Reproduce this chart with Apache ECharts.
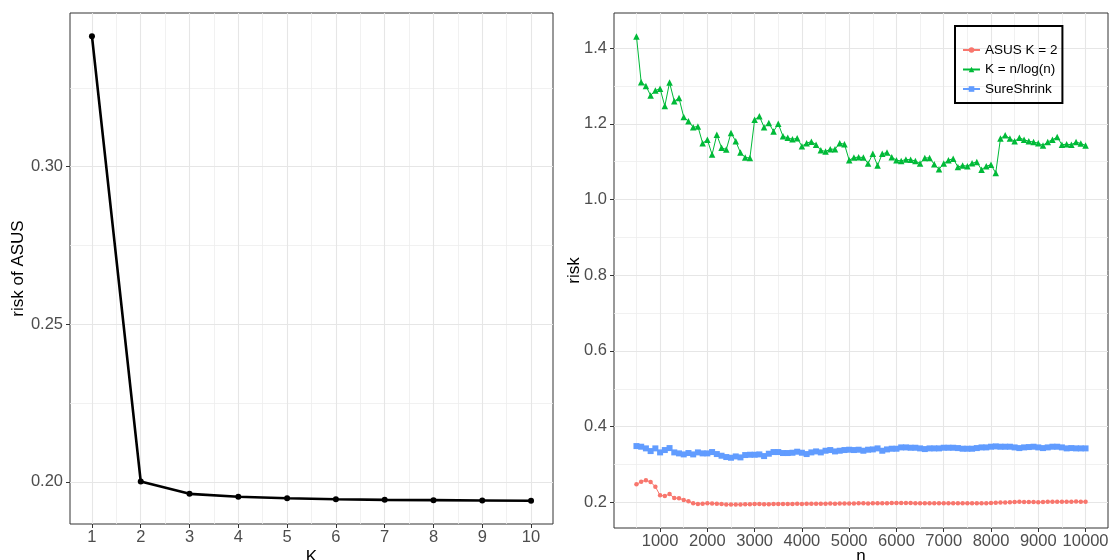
<!DOCTYPE html>
<html><head><meta charset="utf-8">
<script src="https://cdn.jsdelivr.net/npm/echarts@6/dist/echarts.min.js"></script>
<style>html,body{margin:0;padding:0;background:#fff}#c{width:1111px;height:560px}</style>
</head><body><div id="c"></div>
<script>
// ---- Left panel data ----
const kValues = [1, 2, 3, 4, 5, 6, 7, 8, 9, 10];
const asusRiskByK = [0.3414, 0.2001, 0.1962, 0.1953, 0.1948, 0.1945, 0.1943, 0.1942, 0.1941, 0.1940];
const kTicks = [1, 2, 3, 4, 5, 6, 7, 8, 9, 10];
const kMinorTicks = [1.5, 2.5, 3.5, 4.5, 5.5, 6.5, 7.5, 8.5, 9.5];
const riskKTicks = [0.20, 0.25, 0.30];
const riskKMinorTicks = [0.225, 0.275, 0.325];

// ---- Right panel data ----
const nValues = [500,600,700,800,900,1000,1100,1200,1300,1400,1500,1600,1700,1800,1900,2000,2100,2200,2300,2400,2500,2600,2700,2800,2900,3000,3100,3200,3300,3400,3500,3600,3700,3800,3900,4000,4100,4200,4300,4400,4500,4600,4700,4800,4900,5000,5100,5200,5300,5400,5500,5600,5700,5800,5900,6000,6100,6200,6300,6400,6500,6600,6700,6800,6900,7000,7100,7200,7300,7400,7500,7600,7700,7800,7900,8000,8100,8200,8300,8400,8500,8600,8700,8800,8900,9000,9100,9200,9300,9400,9500,9600,9700,9800,9900,10000];
const asusK2 = [0.2475,0.2544,0.2581,0.2536,0.2412,0.2185,0.2166,0.2219,0.2114,0.2106,0.2061,0.2026,0.1974,0.1956,0.1965,0.1974,0.1970,0.1965,0.1956,0.1945,0.1940,0.1942,0.1945,0.1947,0.1947,0.1956,0.1956,0.1952,0.1952,0.1954,0.1958,0.1954,0.1954,0.1958,0.1960,0.1956,0.1960,0.1960,0.1962,0.1965,0.1965,0.1967,0.1965,0.1968,0.1970,0.1972,0.1970,0.1974,0.1974,0.1972,0.1975,0.1977,0.1975,0.1978,0.1980,0.1982,0.1984,0.1982,0.1980,0.1978,0.1976,0.1978,0.1976,0.1975,0.1977,0.1976,0.1978,0.1976,0.1974,0.1976,0.1975,0.1977,0.1976,0.1974,0.1978,0.1982,0.1990,0.1994,0.1998,0.2004,0.2010,0.2014,0.2008,0.2010,0.2006,0.2004,0.2010,0.2016,0.2014,0.2012,0.2016,0.2018,0.2016,0.2020,0.2018,0.2016];
const kNlogN = [1.431,1.310,1.300,1.275,1.288,1.293,1.247,1.309,1.260,1.268,1.218,1.207,1.191,1.193,1.149,1.158,1.119,1.171,1.137,1.132,1.176,1.154,1.124,1.111,1.110,1.211,1.220,1.191,1.202,1.180,1.200,1.167,1.163,1.159,1.162,1.141,1.149,1.153,1.145,1.130,1.127,1.133,1.133,1.149,1.146,1.104,1.111,1.112,1.111,1.095,1.121,1.090,1.121,1.124,1.112,1.104,1.102,1.106,1.105,1.102,1.095,1.110,1.110,1.093,1.080,1.095,1.104,1.108,1.086,1.090,1.088,1.096,1.099,1.079,1.088,1.092,1.070,1.161,1.170,1.161,1.154,1.163,1.158,1.154,1.152,1.149,1.143,1.152,1.158,1.165,1.145,1.146,1.145,1.152,1.148,1.143];
const sureShrink = [0.3486,0.3469,0.3425,0.3354,0.3425,0.3319,0.3381,0.3433,0.3319,0.3293,0.3266,0.3302,0.3266,0.3319,0.3293,0.3293,0.3328,0.3275,0.3231,0.3196,0.3178,0.3213,0.3187,0.3249,0.3257,0.3257,0.3266,0.3222,0.3284,0.3328,0.3328,0.3302,0.3302,0.3310,0.3337,0.3310,0.3275,0.3319,0.3345,0.3319,0.3363,0.3381,0.3345,0.3363,0.3381,0.3390,0.3381,0.3390,0.3363,0.3390,0.3398,0.3425,0.3363,0.3398,0.3416,0.3416,0.3451,0.3451,0.3442,0.3442,0.3425,0.3407,0.3425,0.3425,0.3425,0.3442,0.3442,0.3442,0.3433,0.3416,0.3416,0.3416,0.3433,0.3451,0.3451,0.3469,0.3478,0.3469,0.3469,0.3469,0.3451,0.3433,0.3451,0.3460,0.3469,0.3451,0.3433,0.3451,0.3469,0.3469,0.3451,0.3425,0.3433,0.3425,0.3425,0.3425];
const nTicks = [1000,2000,3000,4000,5000,6000,7000,8000,9000,10000];
const nMinorTicks = [500,1500,2500,3500,4500,5500,6500,7500,8500,9500];
const riskTicks = [0.2, 0.4, 0.6, 0.8, 1.0, 1.2, 1.4];
const riskMinorTicks = [0.3, 0.5, 0.7, 0.9, 1.1, 1.3];
const seriesNames = ['ASUS K = 2', 'K = n/log(n)', 'SureShrink'];

// ggplot-style 5% expansion of the data range
function expand(vals) {
  const mn = Math.min(...vals), mx = Math.max(...vals), r = mx - mn;
  return [mn - 0.05 * r, mx + 0.05 * r];
}
const kRange = expand(kValues);
const riskKRange = expand(asusRiskByK);
const nRange = expand(nValues);
const riskRange = expand(asusK2.concat(kNlogN, sureShrink));

const FONT = 'Liberation Sans, Arial, Helvetica, sans-serif';
const majorLine = {show: true, lineStyle: {color: '#e6e6e6', width: 1.1}};
const minorLine = {show: true, lineStyle: {color: '#eeeeee', width: 0.8}};

function mainAxis(gridIndex, range, ticks, fmt, name, nameGap, isY) {
  return {
    gridIndex, type: 'value', min: range[0], max: range[1],
    axisLine: {show: false},
    axisTick: {show: true, length: 4, lineStyle: {color: '#333', width: 1}, customValues: ticks},
    axisLabel: {customValues: ticks, formatter: fmt, color: '#4d4d4d', fontSize: 16.5, fontFamily: FONT, margin: isY ? 7 : 5},
    splitLine: majorLine,
    name, nameLocation: 'middle', nameGap, nameMoveOverlap: false,
    nameTextStyle: {color: '#000', fontSize: 17, fontFamily: FONT},
    z: 1
  };
}
function minorAxis(gridIndex, range, ticks) {
  return {
    gridIndex, type: 'value', min: range[0], max: range[1],
    axisLine: {show: false},
    axisTick: {show: false, customValues: ticks},
    axisLabel: {show: false, customValues: ticks},
    splitLine: minorLine,
    z: 0
  };
}

const chart = echarts.init(document.getElementById('c'), null, {renderer: 'canvas'});
chart.setOption({
  animation: false,
  backgroundColor: '#fff',
  grid: [
    {left: 70, right: 558, top: 13, bottom: 36, show: true, borderColor: '#333', borderWidth: 1, containLabel: false, outerBoundsMode: 'none'},
    {left: 614, right: 3, top: 13, bottom: 32, show: true, borderColor: '#333', borderWidth: 1, containLabel: false, outerBoundsMode: 'none'}
  ],
  xAxis: [
    mainAxis(0, kRange, kTicks, v => String(v), 'K', 25, false),
    minorAxis(0, kRange, kMinorTicks),
    mainAxis(1, nRange, nTicks, v => String(v), 'n', 20, false),
    minorAxis(1, nRange, nMinorTicks)
  ],
  yAxis: [
    mainAxis(0, riskKRange, riskKTicks, v => v.toFixed(2), 'risk of ASUS', 43, true),
    minorAxis(0, riskKRange, riskKMinorTicks),
    mainAxis(1, riskRange, riskTicks, v => v.toFixed(1), 'risk', 31, true),
    minorAxis(1, riskRange, riskMinorTicks)
  ],
  legend: {
    data: seriesNames,
    orient: 'vertical', left: 955, top: 26,
    padding: [17, 5, 7, 7],
    borderColor: '#000', borderWidth: 2,
    itemGap: 5.5, itemWidth: 17, itemHeight: 7,
    textStyle: {fontSize: 13.5, fontFamily: FONT, color: '#000'}
  },
  series: [
    {
      type: 'line', xAxisIndex: 0, yAxisIndex: 0,
      data: kValues.map((k, i) => [k, asusRiskByK[i]]),
      symbol: 'circle', symbolSize: 6,
      lineStyle: {color: '#000', width: 2.6},
      itemStyle: {color: '#000'}
    },
    {
      name: seriesNames[0], type: 'line', xAxisIndex: 2, yAxisIndex: 2,
      data: nValues.map((n, i) => [n, asusK2[i]]),
      symbol: 'circle', symbolSize: 4.5,
      lineStyle: {color: '#F8766D', width: 1},
      itemStyle: {color: '#F8766D'}
    },
    {
      name: seriesNames[1], type: 'line', xAxisIndex: 2, yAxisIndex: 2,
      data: nValues.map((n, i) => [n, kNlogN[i]]),
      symbol: 'triangle', symbolSize: 6.5,
      lineStyle: {color: '#00BA38', width: 1},
      itemStyle: {color: '#00BA38'}
    },
    {
      name: seriesNames[2], type: 'line', xAxisIndex: 2, yAxisIndex: 2,
      data: nValues.map((n, i) => [n, sureShrink[i]]),
      symbol: 'rect', symbolSize: 6,
      lineStyle: {color: '#619CFF', width: 1},
      itemStyle: {color: '#619CFF'}
    }
  ]
});
</script></body></html>
